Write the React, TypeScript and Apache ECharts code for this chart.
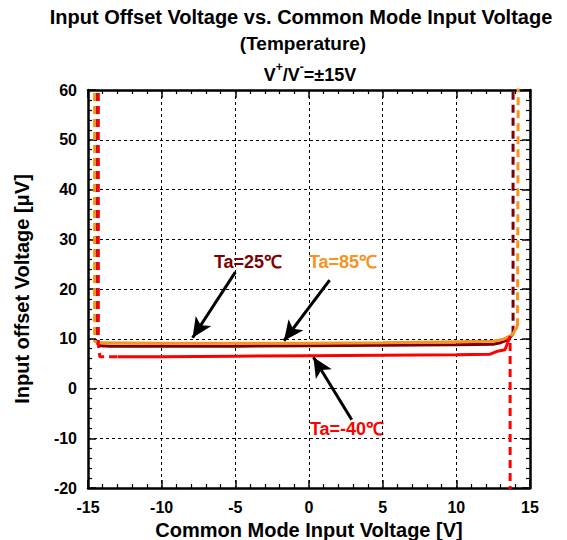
import React, { useEffect, useRef } from "react";
import * as echarts from "echarts";

const FONT = "'Liberation Sans', Arial, Helvetica, sans-serif";

const X_RANGE = [-15, 15];
const Y_RANGE = [-20, 60];

// Ta=25℃ (dark red)
const ta25DashLeft = [[-14.35, 62], [-14.35, 9.0], [-14.2, 8.6]];
const ta25Solid = [[-14.2, 8.6], [-13.5, 8.5], [-10, 8.5], [-5, 8.5], [0, 8.6], [5, 8.7], [10, 8.8], [12.5, 8.9], [13.0, 9.2], [13.5, 9.8], [13.85, 11]];
const ta25DashRight = [[13.85, 11], [13.85, 62]];

// Ta=85℃ (orange)
const ta85DashLeft = [[-14.55, 62], [-14.55, 9.5], [-14.3, 9.2]];
const ta85Solid = [[-14.3, 9.2], [-10, 9.1], [-5, 9.1], [0, 9.1], [5, 9.2], [10, 9.4], [12.5, 9.5], [13.2, 9.9], [13.8, 10.8], [14.15, 12.5]];
const ta85DashRight = [[14.15, 12.5], [14.2, 62]];

// Ta=-40℃ (red)
const taM40DashLeft = [[-14.3, 62], [-14.3, 9.0], [-14.2, 6.4], [-13.0, 6.4]];
const taM40Solid = [[-13.0, 6.4], [-10, 6.4], [-5, 6.5], [0, 6.6], [5, 6.7], [10, 6.8], [12.3, 6.9], [12.8, 7.5], [13.3, 7.8], [13.5, 9.3]];
const taM40DashRight = [[13.5, 9.3], [13.65, 10.5], [13.65, -21]];

const C25 = "#7f0000";
const C85 = "#f7931e";
const CM40 = "#ff0000";

// annotation arrows [tail, tip] in data coords
const ARROWS = [
  [[-5.0, 23.4], [-7.9, 10.2]],
  [[1.4, 21.8], [-1.7, 9.6]],
  [[2.9, -6.3], [0.3, 6.3]],
];

function lineSeries(data: number[][], color: string, dashed: boolean) {
  return {
    type: "line",
    data,
    showSymbol: false,
    symbol: "none",
    clip: true,
    silent: true,
    lineStyle: { color, width: 3, type: dashed ? [8, 5] : "solid" },
  };
}

export default function App() {
  const ref = useRef<HTMLDivElement>(null);
  useEffect(() => {
    const chart = echarts.init(ref.current!, null, { renderer: "svg" });
    const axisCommon = {
      axisLine: { show: true, onZero: false, lineStyle: { color: "#000", width: 2.5 } },
      axisTick: { show: true, inside: true, length: 8, lineStyle: { color: "#000", width: 1.5 } },
      minorTick: { show: true, splitNumber: 5, length: 4, lineStyle: { color: "#000", width: 1.2 } },
    };
    const labelStyle = { color: "#000", fontSize: 16, fontWeight: "bold", fontFamily: FONT };
    const nameStyle = { color: "#000", fontSize: 20, fontWeight: "bold", fontFamily: FONT };
    const split = { show: true, lineStyle: { color: "#000", width: 1, type: [3, 3] } };

    const series: any[] = [
      lineSeries(ta25DashLeft, C25, true),
      lineSeries(ta25Solid, C25, false),
      lineSeries(ta25DashRight, C25, true),
      lineSeries(ta85DashLeft, C85, true),
      lineSeries(ta85Solid, C85, false),
      lineSeries(ta85DashRight, C85, true),
      lineSeries(taM40DashLeft, CM40, true),
      lineSeries(taM40Solid, CM40, false),
      lineSeries(taM40DashRight, CM40, true),
    ];
    series.push({
      type: "line",
      data: [],
      silent: true,
      markLine: {
        silent: true,
        animation: false,
        symbol: ["none", "arrow"],
        symbolSize: [14, 20],
        label: { show: false },
        lineStyle: { color: "#000", width: 3, type: "solid" },
        emphasis: { disabled: true },
        data: ARROWS.map(([a, b]) => [
          { coord: a, symbol: "none" },
          { coord: b, symbol: "arrow" },
        ]),
      },
    });

    const annot = (text: string, x: number, y: number, fill: string) => ({
      type: "text",
      x,
      y,
      silent: true,
      style: { text, align: "center", verticalAlign: "middle", fill, fontSize: 18, fontWeight: "bold", fontFamily: FONT },
    });

    chart.setOption({
      animation: false,
      grid: { left: 88, right: 37, top: 90, bottom: 52, containLabel: false, outerBoundsMode: "none" },
      xAxis: [
        {
          type: "value",
          min: X_RANGE[0],
          max: X_RANGE[1],
          interval: 5,
          position: "bottom",
          ...axisCommon,
          splitLine: split,
          axisLabel: { ...labelStyle, margin: 11 },
          name: "Common Mode Input Voltage [V]",
          nameLocation: "middle",
          nameGap: 20,
          nameTextStyle: { ...nameStyle, verticalAlign: "top" },
        },
        {
          type: "value",
          min: X_RANGE[0],
          max: X_RANGE[1],
          interval: 5,
          position: "top",
          ...axisCommon,
          splitLine: { show: false },
          axisLabel: { show: false },
        },
      ],
      yAxis: [
        {
          type: "value",
          min: Y_RANGE[0],
          max: Y_RANGE[1],
          interval: 10,
          position: "left",
          ...axisCommon,
          splitLine: split,
          axisLabel: { ...labelStyle, margin: 11 },
          name: "Input offset Voltage [μV]",
          nameLocation: "middle",
          nameGap: 56,
          nameRotate: 90,
          nameTextStyle: nameStyle,
        },
        {
          type: "value",
          min: Y_RANGE[0],
          max: Y_RANGE[1],
          interval: 10,
          position: "right",
          ...axisCommon,
          splitLine: { show: false },
          axisLabel: { show: false },
        },
      ],
      series,
      graphic: [
        {
          type: "text",
          x: 301,
          y: 17,
          silent: true,
          style: {
            text: "Input Offset Voltage vs. Common Mode Input Voltage",
            align: "center",
            verticalAlign: "middle",
            fill: "#000",
            fontSize: 20,
            fontWeight: "bold",
            fontFamily: FONT,
          },
        },
        {
          type: "text",
          x: 303,
          y: 43,
          silent: true,
          style: {
            text: "(Temperature)",
            align: "center",
            verticalAlign: "middle",
            fill: "#000",
            fontSize: 19,
            fontWeight: "bold",
            fontFamily: FONT,
          },
        },
        {
          type: "text",
          x: 310,
          y: 75,
          silent: true,
          style: {
            text: "{b|V}{s|+}{b|/V}{s|-}{b|=±15V}",
            align: "center",
            verticalAlign: "middle",
            fill: "#000",
            fontSize: 18,
            fontWeight: "bold",
            fontFamily: FONT,
            rich: {
              b: { fontSize: 18, fontWeight: "bold", fontFamily: FONT, fill: "#000" },
              s: { fontSize: 12, fontWeight: "bold", fontFamily: FONT, fill: "#000", verticalAlign: "top", lineHeight: 28 },
            },
          },
        },
        annot("Ta=25℃", 248, 262, C25),
        annot("Ta=85℃", 343, 262, C85),
        annot("Ta=-40℃", 347, 429, CM40),
      ],
    });
    return () => chart.dispose();
  }, []);
  return <div ref={ref} style={{ width: 567, height: 540, position: "absolute", left: 0, top: 0 }} />;
}
